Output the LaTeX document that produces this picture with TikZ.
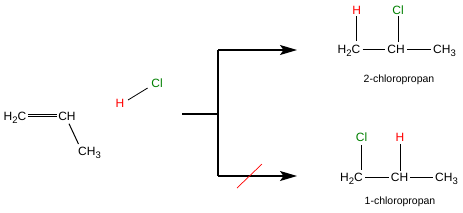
\documentclass[tikz,border=0pt]{standalone}
\usepackage{fontspec}
\setmainfont{Liberation Sans}
\usetikzlibrary{arrows.meta}
\definecolor{clgreen}{RGB}{0,128,0}
\newcommand{\chsub}[1]{\raisebox{-3pt}{\fontsize{9.5}{9.5}\selectfont #1}}
\begin{document}
\begin{tikzpicture}[x=1pt,y=-1pt,
  font=\fontsize{12}{14}\selectfont,
  atom/.style={inner sep=0pt, anchor=base},
  lbl/.style={inner sep=0pt, anchor=base, font=\fontsize{10.5}{12}\selectfont},
  bond/.style={line width=1pt},
  hatom/.style={atom, text=red},
  clatom/.style={atom, text=clgreen},
  flow/.style={line width=1.2pt},
  head/.style={-{Stealth[length=17pt,width=10pt,inset=3.5pt]}}]
\useasboundingbox (0,0) rectangle (463,212);

% propene
\node[atom] (e1) at (15,120.7) {H\chsub{2}C};
\node[atom] (e2) at (67,120.7) {CH};
\node[atom] (e3) at (89.5,155.5) {CH\chsub{3}};
\draw[bond] ([xshift=1.5pt,yshift=6.4pt]e1.base east) -- ([xshift=-1.5pt,yshift=6.4pt]e2.base west);
\draw[bond] ([xshift=1.5pt,yshift=4pt]e1.base east) -- ([xshift=-1.5pt,yshift=4pt]e2.base west);
\draw[bond] ([xshift=2pt,yshift=-3pt]e2.base) -- ([xshift=0.5pt,yshift=11.5pt]e3.base west);

% HCl
\node[hatom] (h) at (120,107) {H};
\node[clatom] (cl) at (157,87) {Cl};
\draw[line width=0.8pt] ([xshift=3.5pt,yshift=7pt]h.base east) -- ([xshift=-3.5pt,yshift=-1pt]cl.base west);

% reaction arrows
\coordinate (s) at (182,114);
\coordinate (j) at (218,114);
\coordinate (jt) at (218,50);
\coordinate (jb) at (218,176);
\coordinate (et) at (297,50);
\coordinate (eb) at (297,176);
\draw[flow] (s) -- (j);
\draw[flow] (jt) -- (jb);
\draw[flow,head] (jt) -- (et);
\draw[flow,head] (jb) -- (eb);
\coordinate (x1) at (237,188);
\coordinate (x2) at (262,164);
\draw[red,line width=0.7pt] (x1) -- (x2);

% 2-chloropropan
\node[atom] (a1) at (349,53.3) {H\chsub{2}C};
\node[atom] (a2) at (396,53.3) {CH};
\node[atom] (a3) at (444.5,53.3) {CH\chsub{3}};
\node[hatom] (a4) at (356.7,14) {H};
\node[clatom] (a5) at (398,14) {Cl};
\coordinate (a4b) at (a4.south |- a1.north);
\coordinate (a5b) at (a5.south |- a2.north);
\draw[bond] ([yshift=-2pt]a4.south) -- ([yshift=4pt]a4b);
\draw[bond] ([yshift=-2pt]a5.south) -- ([yshift=2.7pt]a5b);
\draw[bond] ([xshift=2pt,yshift=4pt]a1.base east) -- ([xshift=-2pt,yshift=4pt]a2.base west);
\draw[bond] ([xshift=2pt,yshift=4pt]a2.base east) -- ([xshift=-2pt,yshift=4pt]a3.base west);
\node[lbl] (n1) at (399,82) {2-chloropropan};

% 1-chloropropan
\node[atom] (b1) at (351.5,181.7) {H\chsub{2}C};
\node[atom] (b2) at (399.5,181.7) {CH};
\node[atom] (b3) at (446.5,181.7) {CH\chsub{3}};
\node[clatom] (b4) at (361.5,141.7) {Cl};
\node[hatom] (b5) at (400,141.7) {H};
\coordinate (b4b) at (b4.south |- b1.north);
\coordinate (b5b) at (b5.south |- b2.north);
\draw[bond] ([yshift=-3pt]b4.south) -- ([yshift=3pt]b4b);
\draw[bond] ([yshift=-2pt]b5.south) -- ([yshift=2.3pt]b5b);
\draw[bond] ([xshift=2pt,yshift=4pt]b1.base east) -- ([xshift=-2pt,yshift=4pt]b2.base west);
\draw[bond] ([xshift=2pt,yshift=4pt]b2.base east) -- ([xshift=-2pt,yshift=4pt]b3.base west);
\node[lbl] (n2) at (400,204.3) {1-chloropropan};
\end{tikzpicture}
\end{document}
